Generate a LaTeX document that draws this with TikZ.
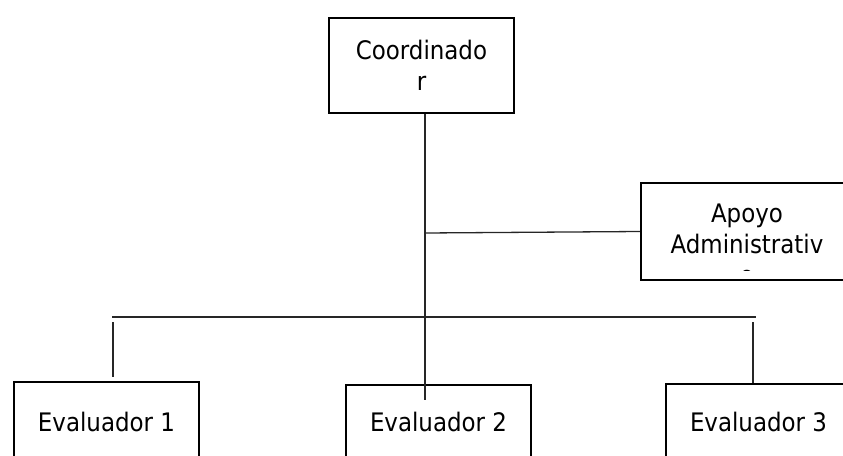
\documentclass[tikz,border=0pt]{standalone}
\usepackage{fontspec}
\setmainfont{DejaVu Sans Condensed}
\usetikzlibrary{positioning}

\tikzset{
  orgbox/.style={draw, line width=2.4pt, minimum width=185pt, minimum height=95pt, inner sep=0pt, align=center},
  orgtext/.style={inner sep=0pt, align=center, font=\fontsize{25.5}{31}\selectfont},
  orglink/.style={draw=black!85, line width=1.3pt},
}

\begin{document}
\begin{tikzpicture}[x=1pt, y=-1pt]
  \useasboundingbox (0,0) rectangle (843,455);
  \clip (0,0) rectangle (843,455);

  % Boxes
  \node[orgbox, orgtext] (coord) at (421.5,65.5) {Coordinado\\r};
  \node[orgbox, minimum width=212pt, minimum height=97pt] (apoyo) at (747,231.5) {};
  \begin{scope}
    \clip (643,185) rectangle (850,270); % text cut by the box
    \node[orgtext] (apoyotext) at (747,244) {Apoyo\\Administrativ\\o};
  \end{scope}
  \node[orgbox, orgtext, minimum height=80pt] (eval1) at (106.5,422) {Evaluador 1};
  \node[orgbox, orgtext, minimum height=74pt] (eval2) at (438.5,422) {Evaluador 2};
  \node[orgbox, orgtext, minimum height=76pt] (eval3) at (758.5,422) {Evaluador 3};

  % Junction points
  \coordinate (hub) at (425,233);
  \coordinate (trunkend) at (425,400);
  \coordinate (barleft) at (112,317);
  \coordinate (barright) at (756,317);
  \coordinate (dropleft) at (113,322);
  \coordinate (dropleftend) at (113,377);
  \coordinate (dropright) at (753,322);

  % Lines
  \draw[orglink] (coord.south -| hub) -- (trunkend);
  \draw[orglink] (hub) -- (apoyo.west);
  \draw[orglink] (barleft) -- (barright);
  \draw[orglink] (dropleft) -- (dropleftend);
  \draw[orglink] (dropright) -- (dropright |- eval3.north);
\end{tikzpicture}
\end{document}
